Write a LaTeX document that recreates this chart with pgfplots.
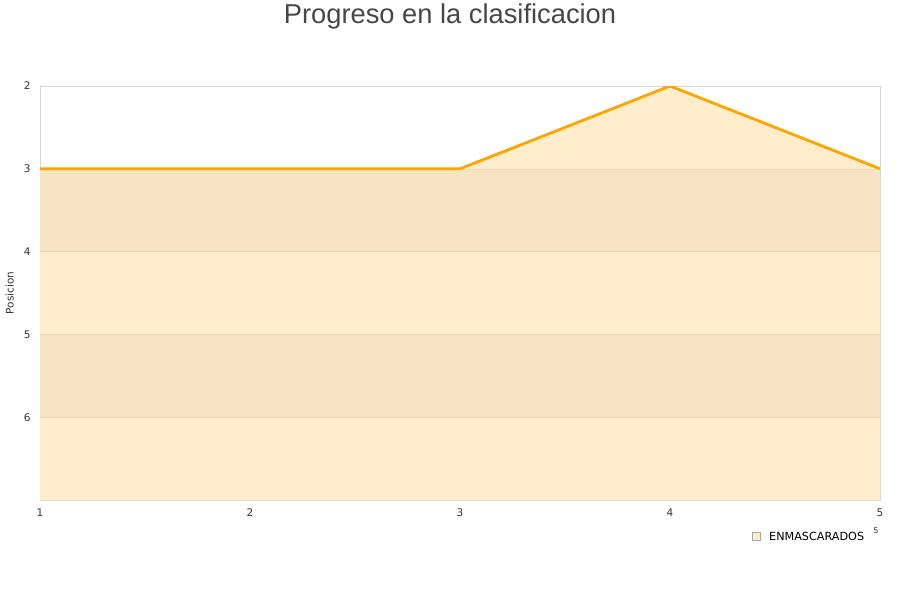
\documentclass[border=0pt]{standalone}
\usepackage{pgfplots}
\pgfplotsset{compat=1.18}
\usepackage{fontspec}
\setmainfont{DejaVu Sans}
\newfontfamily\titlefont{Liberation Sans}
\definecolor{linecol}{HTML}{FFA500}
\definecolor{areacol}{HTML}{FFEDCC}
\definecolor{bandcol}{HTML}{F7E4C3}
\definecolor{gridcol}{HTML}{EDD9B6}
\definecolor{framecol}{HTML}{D6D6D6}
\definecolor{txtcol}{HTML}{333333}
\begin{document}
\begin{tikzpicture}
\useasboundingbox (0pt,0pt) rectangle (900pt,600pt);
\node[font=\titlefont\fontsize{27.3}{31}\selectfont, text=txtcol!90] at (450pt,584pt) {Progreso en la clasificacion};
\begin{axis}[
    at={(40pt,100pt)}, anchor=south west,
    scale only axis,
    width=840pt, height=414pt,
    xmin=1, xmax=5, ymin=2, ymax=7,
    y dir=reverse,
    xtick={1,2,3,4,5},
    ytick={2,3,4,5,6},
    major tick length=0pt,
    axis line style={framecol, line width=0.8pt},
    ticklabel style={font=\fontsize{10.5}{12}\selectfont, text=txtcol},
    /pgf/number format/assume math mode=true,
    xticklabel style={yshift=-5pt},
    yticklabel style={xshift=-6pt},
    ylabel={Posicion},
    ylabel style={font=\fontsize{10.5}{12}\selectfont, text=txtcol, anchor=center, at={(axis description cs:-0.036,0.5)}},
    clip=true,
]
% area under the line
\addplot[fill=areacol, draw=none] coordinates {(1,7) (1,3) (2,3) (3,3) (4,2) (5,3) (5,7)} -- cycle;
% alternating bands
\addplot[fill=bandcol, draw=none] coordinates {(1,3) (5,3) (5,4) (1,4)} -- cycle;
\addplot[fill=bandcol, draw=none] coordinates {(1,5) (5,5) (5,6) (1,6)} -- cycle;
% grid lines
\addplot[gridcol, line width=0.6pt] coordinates {(1,3) (5,3)};
\addplot[gridcol, line width=0.6pt] coordinates {(1,4) (5,4)};
\addplot[gridcol, line width=0.6pt] coordinates {(1,5) (5,5)};
\addplot[gridcol, line width=0.6pt] coordinates {(1,6) (5,6)};
% series line
\addplot[linecol, line width=2.8pt, line join=round] coordinates {(1,3) (2,3) (3,3) (4,2) (5,3)};
\end{axis}
% legend
\draw[gray!70, fill=areacol, line width=0.5pt] (752pt,60pt) rectangle (760pt,68pt);
\node[anchor=west, font=\fontsize{11.2}{13}\selectfont, inner sep=0pt] at (769pt,64pt) {ENMASCARADOS};
\node[font=\fontsize{8}{9}\selectfont, text=txtcol, inner sep=0pt] at (876pt,69pt) {5};
\end{tikzpicture}
\end{document}
